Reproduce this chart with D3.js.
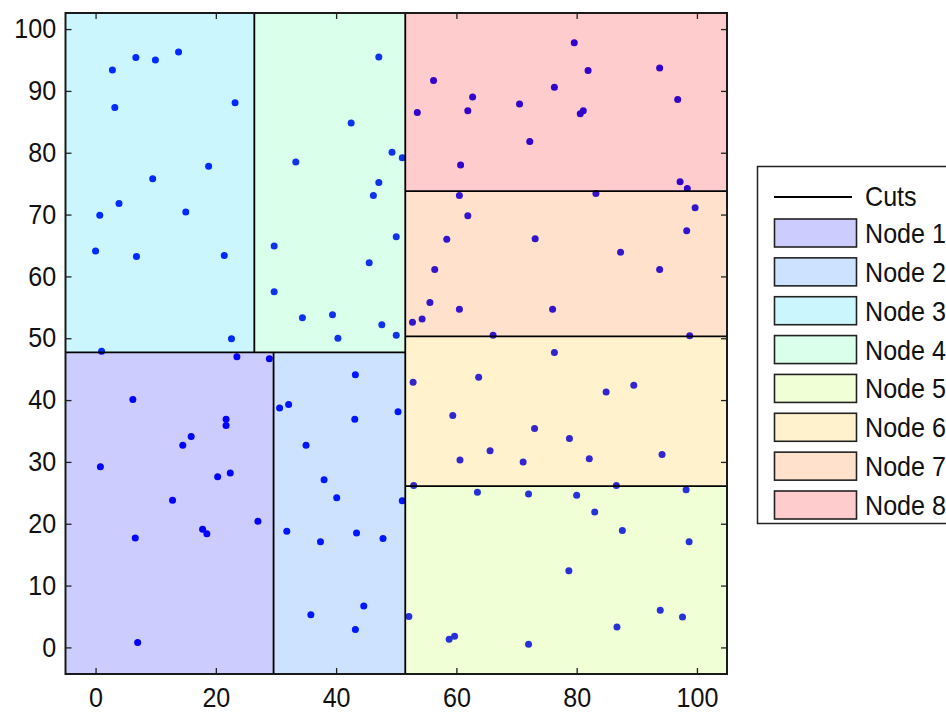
<!DOCTYPE html>
<html>
<head>
<meta charset="utf-8">
<script src="https://cdn.jsdelivr.net/npm/d3@7"></script>
<style>
    body { margin: 0; background: #fff; }
    svg { display: block; }
    .tick text, .legendText { font-family: "Liberation Sans", Arial, sans-serif; fill: #111; }
</style>
</head>
<body>
<script>
(function () {

    //sample points
    var pointsX = [2.8, 6.7, 9.95, 13.8, 23.2, 3.2, 18.8, 9.5, 3.9, 0.7, 15.0, 0.0, 6.8, 21.4, 22.6, 1.0,
        47.1, 42.5, 33.3, 49.3, 51.0, 47.1, 46.2, 50.0, 29.7, 45.5, 29.7, 34.4, 39.4, 47.6, 40.3, 50.0,
        56.2, 62.7, 53.5, 61.9, 60.7, 79.6, 81.9, 93.8, 76.3, 70.5, 96.8, 80.6, 81.1, 72.2, 97.2, 98.4,
        60.5, 61.9, 58.4, 56.4, 55.6, 60.5, 52.7, 54.3, 83.2, 99.7, 98.3, 73.1, 87.3, 93.8, 76.0, 66.1, 98.8,
        23.5, 28.9, 6.2, 21.7, 21.7, 15.9, 14.5, 0.8, 20.3, 22.4, 12.8, 27.0, 17.8, 18.5, 6.6, 7.0,
        30.6, 32.1, 31.8, 43.2, 43.1, 50.3, 35.0, 38.0, 40.1, 51.0, 37.4, 43.4, 47.8, 44.6, 35.8, 43.2,
        52.8, 63.7, 59.4, 65.6, 60.6, 52.9, 76.3, 89.5, 84.9, 73.0, 78.8, 82.1, 94.2, 71.1,
        63.5, 52.1, 58.8, 59.7, 86.6, 98.2, 72.0, 80.0, 83.0, 87.6, 98.7, 78.7, 93.9, 97.6, 86.7, 72.0];
    var pointsY = [93.4, 95.4, 95.0, 96.3, 88.1, 87.3, 77.8, 75.8, 71.8, 69.9, 70.4, 64.1, 63.2, 63.4, 49.9, 47.9,
        95.5, 84.8, 78.5, 80.1, 79.2, 75.2, 73.1, 66.4, 64.9, 62.2, 57.5, 53.3, 53.8, 52.2, 50.0, 50.5,
        91.7, 89.0, 86.5, 86.8, 78.0, 97.8, 93.3, 93.7, 90.6, 87.9, 88.6, 86.3, 86.8, 81.8, 75.3, 74.2,
        73.1, 69.8, 66.0, 61.1, 55.8, 54.7, 52.6, 53.1, 73.4, 71.1, 67.4, 66.1, 63.9, 61.1, 54.7, 50.5, 50.4,
        47.0, 46.7, 40.1, 36.9, 35.9, 34.1, 32.7, 29.2, 27.6, 28.2, 23.8, 20.4, 19.1, 18.4, 17.7, 0.8,
        38.7, 39.3, 18.8, 44.1, 36.9, 38.1, 32.7, 27.1, 24.2, 23.7, 17.1, 18.5, 17.6, 6.7, 5.3, 2.9,
        42.9, 43.7, 37.5, 31.8, 30.3, 26.2, 47.7, 42.4, 41.3, 35.4, 33.8, 30.5, 31.2, 30.0,
        25.1, 5.0, 1.3, 1.8, 26.2, 25.5, 24.8, 24.6, 21.9, 18.9, 17.1, 12.4, 6.0, 4.9, 3.3, 0.5];

    //tree nodes (leaf boxes) and their colours
    var nodeNames = ["Node 1", "Node 2", "Node 3", "Node 4", "Node 5", "Node 6", "Node 7", "Node 8"];
    var nodeX0 = [-5, 29.6, -5, 26.4, 51.5, 51.5, 51.5, 51.5];
    var nodeX1 = [29.6, 51.5, 26.4, 51.5, 105, 105, 105, 105];
    var nodeY0 = [-4.3, -4.3, 47.7, 47.7, -4.3, 26.1, 50.3, 73.8];
    var nodeY1 = [47.7, 47.7, 102.6, 102.6, 26.1, 50.3, 73.8, 102.6];
    var nodeColors = ["#0000f8", "#0070f8", "#00d0f8", "#48ff9c", "#b8ff34", "#ffc000", "#ff6800", "#f80000"];

    //split lines
    var cutX0 = [51.5, -5, 26.4, 29.6, 51.5, 51.5, 51.5];
    var cutX1 = [51.5, 51.5, 26.4, 29.6, 105, 105, 105];
    var cutY0 = [-4.3, 47.7, 47.7, -4.3, 26.1, 50.3, 73.8];
    var cutY1 = [102.6, 47.7, 102.6, 47.7, 26.1, 50.3, 73.8];

    var xTicks = [0, 20, 40, 60, 80, 100];
    var yTicks = [0, 10, 20, 30, 40, 50, 60, 70, 80, 90, 100];

    var width = 946,
        height = 712;

    var svg = d3.select("body")
        .append("svg")
        .attr("width", width)
        .attr("height", height);

    var x = d3.scaleLinear().domain([-5, 105]).range([65.5, 727]);
    var y = d3.scaleLinear().domain([-4.3, 102.6]).range([674, 13]);

    //points go first, the boxes are see-through on top of them
    svg.selectAll(".pts")
        .data(pointsX)
        .enter()
        .append("circle")
        .attr("class", "pts")
        .attr("cx", function (d) { return x(d); })
        .attr("cy", function (d, i) { return y(pointsY[i]); })
        .attr("r", 3.5)
        .style("fill", "#0000ff");

    svg.selectAll(".nodes")
        .data(nodeNames)
        .enter()
        .append("rect")
        .attr("class", "nodes")
        .attr("x", function (d, i) { return x(nodeX0[i]); })
        .attr("y", function (d, i) { return y(nodeY1[i]); })
        .attr("width", function (d, i) { return x(nodeX1[i]) - x(nodeX0[i]); })
        .attr("height", function (d, i) { return y(nodeY0[i]) - y(nodeY1[i]); })
        .style("fill", function (d, i) { return nodeColors[i]; })
        .style("fill-opacity", 0.2);

    svg.selectAll(".cuts")
        .data(cutX0)
        .enter()
        .append("line")
        .attr("class", "cuts")
        .attr("x1", function (d) { return x(d); })
        .attr("x2", function (d, i) { return x(cutX1[i]); })
        .attr("y1", function (d, i) { return y(cutY0[i]); })
        .attr("y2", function (d, i) { return y(cutY1[i]); })
        .style("stroke", "#000")
        .style("stroke-width", 1.8);

    //axes, matlab style: ticks inside on all four sides
    function styleAxis(g) {
        g.select(".domain").remove();
        g.selectAll(".tick line").style("stroke", "#222").style("stroke-width", 1.3);
        g.selectAll(".tick text")
            .style("font-size", "27px")
            .attr("transform", "scale(0.93,1)");
    }

    svg.append("g")
        .attr("transform", "translate(0," + y.range()[0] + ")")
        .call(d3.axisBottom(x).tickValues(xTicks).tickSize(-6).tickPadding(14).tickFormat(d3.format("d")))
        .call(styleAxis);

    svg.append("g")
        .attr("transform", "translate(" + x.range()[0] + ",0)")
        .call(d3.axisLeft(y).tickValues(yTicks).tickSize(-6).tickPadding(10).tickFormat(d3.format("d")))
        .call(styleAxis);

    svg.append("g")
        .attr("transform", "translate(0," + y.range()[1] + ")")
        .call(d3.axisTop(x).tickValues(xTicks).tickSize(-6).tickFormat(""))
        .call(styleAxis);

    svg.append("g")
        .attr("transform", "translate(" + x.range()[1] + ",0)")
        .call(d3.axisRight(y).tickValues(yTicks).tickSize(-6).tickFormat(""))
        .call(styleAxis);

    svg.append("rect")
        .attr("x", x.range()[0])
        .attr("y", y.range()[1])
        .attr("width", x.range()[1] - x.range()[0])
        .attr("height", y.range()[0] - y.range()[1])
        .style("fill", "none")
        .style("stroke", "#1a1a1a")
        .style("stroke-width", 2);

    //legend
    var legend = svg.append("g").attr("class", "legend");
    legend.append("rect")
        .attr("x", 757.5)
        .attr("y", 166.5)
        .attr("width", 220)
        .attr("height", 357)
        .style("fill", "#fff")
        .style("stroke", "#222")
        .style("stroke-width", 1.5);

    legend.append("line")
        .attr("x1", 774).attr("x2", 852)
        .attr("y1", 197).attr("y2", 197)
        .style("stroke", "#000")
        .style("stroke-width", 1.8);
    legend.append("text")
        .attr("class", "legendText")
        .attr("transform", "translate(865,206) scale(0.93,1)")
        .style("font-size", "27px")
        .text("Cuts");

    var rowY = d3.scaleLinear().domain([0, 7]).range([233, 505]);

    legend.selectAll(".swatch")
        .data(nodeNames)
        .enter()
        .append("rect")
        .attr("class", "swatch")
        .attr("x", 774.5)
        .attr("y", function (d, i) { return rowY(i) - 14; })
        .attr("width", 82)
        .attr("height", 28)
        .style("fill", function (d, i) { return d3.interpolateRgb("#fff", nodeColors[i])(0.2); })
        .style("stroke", "#222")
        .style("stroke-width", 1.6);

    legend.selectAll(".legendText.node")
        .data(nodeNames)
        .enter()
        .append("text")
        .attr("class", "legendText node")
        .attr("transform", function (d, i) { return "translate(865," + (rowY(i) + 10) + ") scale(0.93,1)"; })
        .style("font-size", "27px")
        .text(function (d) { return d; });

})();
</script>
</body>
</html>
